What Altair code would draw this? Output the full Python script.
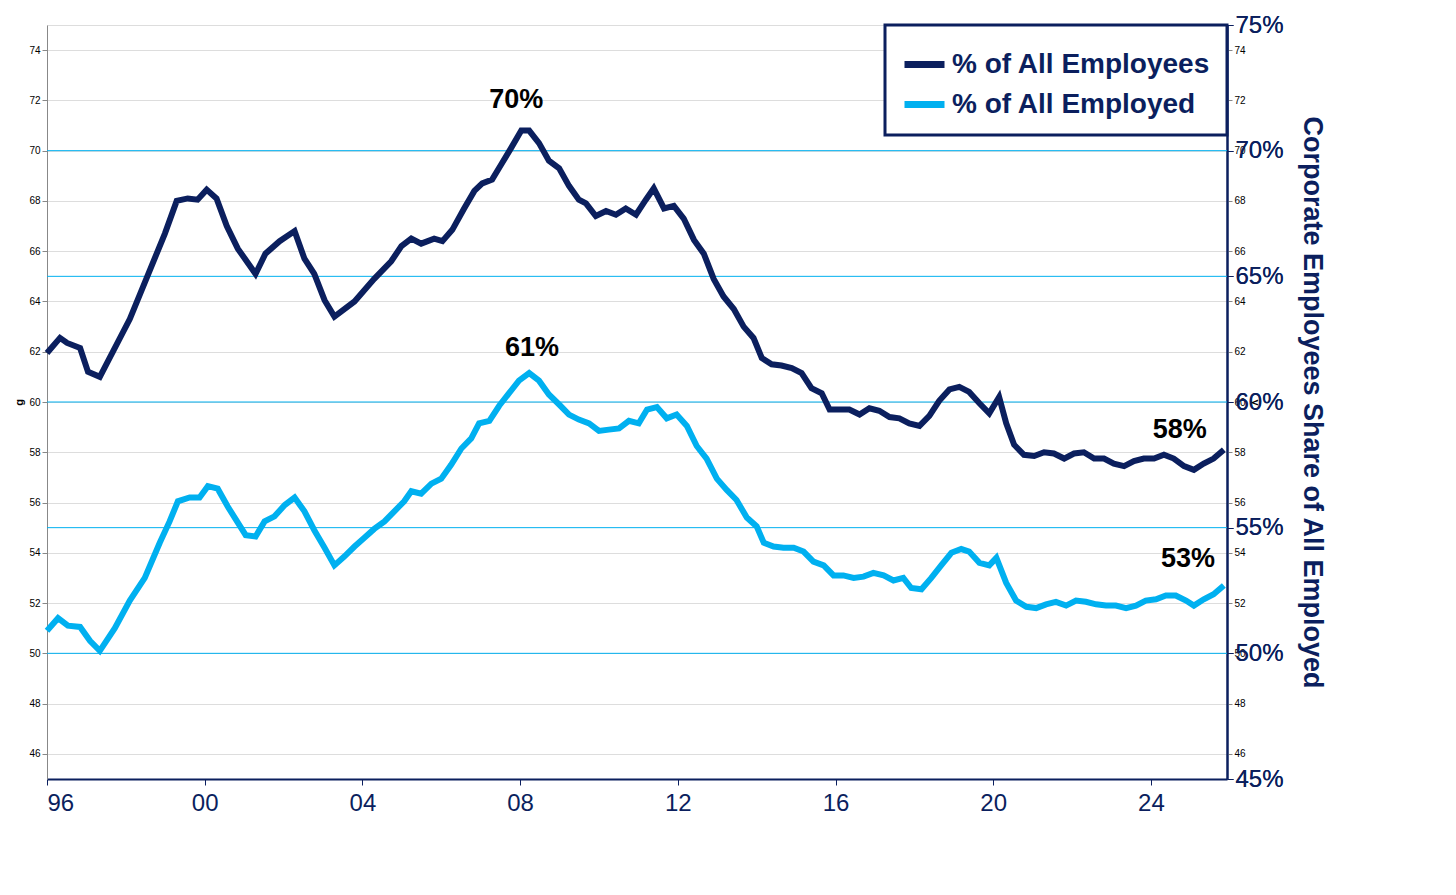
import altair as alt
import pandas as pd

dark_years = [1996.0,1996.33,1996.51,1996.84,1997.04,1997.34,1998.10,1998.99,1999.29,1999.57,1999.82,2000.05,2000.30,2000.56,2000.84,2001.29,2001.54,2001.90,2002.28,2002.53,2002.78,2003.04,2003.29,2003.80,2004.30,2004.73,2004.99,2005.24,2005.49,2005.82,2006.03,2006.28,2006.58,2006.84,2007.04,2007.29,2007.52,2007.77,2008.03,2008.23,2008.48,2008.73,2008.99,2009.24,2009.49,2009.67,2009.92,2010.18,2010.43,2010.68,2010.94,2011.19,2011.39,2011.65,2011.90,2012.15,2012.41,2012.66,2012.91,2013.16,2013.42,2013.67,2013.92,2014.13,2014.38,2014.63,2014.89,2015.14,2015.39,2015.65,2015.85,2016.10,2016.35,2016.61,2016.86,2017.11,2017.37,2017.62,2017.87,2018.13,2018.38,2018.63,2018.89,2019.14,2019.39,2019.65,2019.90,2020.15,2020.33,2020.53,2020.78,2021.04,2021.29,2021.54,2021.80,2022.05,2022.30,2022.56,2022.81,2023.06,2023.32,2023.57,2023.82,2024.08,2024.33,2024.58,2024.84,2025.09,2025.34,2025.59,2025.85]
dark_vals = [61.95,62.55,62.35,62.15,61.2,61.0,63.3,66.7,68.0,68.1,68.05,68.45,68.1,67.0,66.1,65.1,65.9,66.4,66.8,65.7,65.1,64.05,63.4,64.0,64.9,65.6,66.2,66.5,66.3,66.5,66.4,66.85,67.7,68.4,68.7,68.85,69.45,70.1,70.8,70.8,70.3,69.6,69.3,68.6,68.05,67.9,67.4,67.6,67.45,67.7,67.45,68.05,68.5,67.7,67.8,67.3,66.45,65.9,64.9,64.2,63.7,63.0,62.55,61.75,61.5,61.45,61.35,61.15,60.55,60.35,59.7,59.7,59.7,59.5,59.75,59.65,59.4,59.35,59.15,59.05,59.45,60.05,60.5,60.6,60.4,59.95,59.55,60.2,59.15,58.3,57.9,57.85,58.0,57.95,57.75,57.95,58.0,57.75,57.75,57.55,57.45,57.65,57.75,57.75,57.9,57.75,57.45,57.3,57.55,57.75,58.1]

light_years = [1996.0,1996.28,1996.53,1996.84,1997.09,1997.34,1997.72,1998.10,1998.48,1998.86,1999.11,1999.32,1999.62,1999.87,2000.08,2000.33,2000.58,2000.84,2001.04,2001.29,2001.52,2001.77,2002.03,2002.28,2002.53,2002.78,2003.04,2003.29,2003.54,2003.80,2004.05,2004.30,2004.56,2004.81,2005.06,2005.24,2005.49,2005.75,2006.0,2006.25,2006.51,2006.76,2006.96,2007.22,2007.47,2007.72,2007.97,2008.23,2008.48,2008.73,2008.99,2009.24,2009.49,2009.75,2010.0,2010.25,2010.51,2010.76,2011.01,2011.22,2011.47,2011.72,2011.97,2012.23,2012.48,2012.73,2012.99,2013.24,2013.49,2013.75,2014.0,2014.18,2014.43,2014.68,2014.94,2015.19,2015.44,2015.70,2015.95,2016.20,2016.46,2016.71,2016.96,2017.22,2017.47,2017.72,2017.92,2018.18,2018.43,2018.68,2018.94,2019.19,2019.39,2019.65,2019.90,2020.08,2020.33,2020.58,2020.84,2021.09,2021.34,2021.59,2021.85,2022.10,2022.35,2022.61,2022.86,2023.11,2023.37,2023.62,2023.87,2024.13,2024.38,2024.63,2024.89,2025.09,2025.34,2025.59,2025.85]
light_vals = [50.9,51.4,51.1,51.05,50.5,50.1,51.0,52.1,53.0,54.4,55.25,56.05,56.2,56.2,56.65,56.55,55.85,55.2,54.7,54.65,55.25,55.45,55.9,56.2,55.65,54.9,54.2,53.5,53.85,54.25,54.6,54.95,55.25,55.65,56.05,56.45,56.35,56.75,56.95,57.5,58.15,58.55,59.15,59.25,59.85,60.35,60.85,61.15,60.85,60.3,59.9,59.5,59.3,59.15,58.85,58.9,58.95,59.25,59.15,59.7,59.8,59.35,59.5,59.05,58.25,57.75,56.95,56.5,56.1,55.4,55.05,54.4,54.25,54.2,54.2,54.05,53.65,53.5,53.1,53.1,53.0,53.05,53.2,53.1,52.9,53.0,52.6,52.55,53.0,53.5,54.0,54.15,54.05,53.6,53.5,53.8,52.8,52.1,51.85,51.8,51.95,52.05,51.9,52.1,52.05,51.95,51.9,51.9,51.8,51.9,52.1,52.15,52.3,52.3,52.1,51.9,52.15,52.35,52.7]

series_names = ["% of All Employees", "% of All Employed"]
colors = ["#0B1F5E", "#00B0F0"]
ann_text = ["70%", "61%", "58%", "53%"]
ann_x = [2007.9, 2008.3, 2024.73, 2024.94]
ann_y = [72.0, 62.15, 58.9, 53.75]

navy = "#0B1F5E"
df = pd.concat([
    pd.DataFrame({"year": dark_years, "v": dark_vals, "s": series_names[0]}),
    pd.DataFrame({"year": light_years, "v": light_vals, "s": series_names[1]}),
])
ann = pd.DataFrame({"x": ann_x, "y": ann_y, "t": ann_text})

xs = alt.Scale(domain=[1996, 2025.93], nice=False, zero=False)
ys = alt.Scale(domain=[45, 75], nice=False, zero=False)
yticks = [45, 50, 55, 60, 65, 70, 75]

lines = alt.Chart(df).mark_line(strokeWidth=6).encode(
    x=alt.X("year:Q", scale=xs, axis=alt.Axis(
        values=list(range(1996, 2025, 4)), labelExpr="slice('0' + (datum.value % 100), -2)",
        title=None, grid=False, labelFontSize=24, labelColor=navy, domainColor=navy,
        domainWidth=2, tickColor=navy, tickSize=6, labelPadding=6)),
    y=alt.Y("v:Q", scale=ys, axis=alt.Axis(
        values=yticks, labelExpr="datum.value + '%'",
        title="Corporate Employees Share of All Employed", titleFontSize=27,
        titleFontWeight="bold", titleColor=navy, titlePadding=14,
        labelFontSize=24, labelColor=navy, grid=False, domainColor=navy,
        domainWidth=2, tickColor=navy, tickSize=6)),
    color=alt.Color("s:N", scale=alt.Scale(domain=series_names, range=colors),
                    legend=alt.Legend(title=None, orient="top-right", offset=0,
                                      strokeColor=navy, fillColor="white",
                                      padding=16, labelFontSize=28, labelFontWeight="bold",
                                      labelColor=navy, symbolType="stroke",
                                      symbolStrokeWidth=7, symbolSize=1600,
                                      labelLimit=400)),
)

grid = alt.Chart(pd.DataFrame({"g": [50, 55, 60, 65, 70]})).mark_rule(
    color="#00B0F0", strokeWidth=1).encode(y=alt.Y("g:Q", scale=ys))

right = alt.Chart(pd.DataFrame({"g": yticks})).mark_point(opacity=0).encode(
    y=alt.Y("g:Q", scale=ys, axis=alt.Axis(
        orient="right", values=yticks, labelExpr="datum.value + '%'", title=None,
        labelFontSize=24, labelColor=navy, domainColor=navy, domainWidth=2,
        tickColor=navy, tickSize=6)))

text = alt.Chart(ann).mark_text(fontSize=27, fontWeight="bold", color="black").encode(
    x=alt.X("x:Q", scale=xs), y=alt.Y("y:Q", scale=ys), text="t:N")

chart = alt.layer(grid, lines, text, right).resolve_scale(y="independent").properties(
    width=1180, height=754
).configure_view(stroke=navy, strokeWidth=2).configure(font="Liberation Sans").configure_legend(
    strokeWidth=3)

chart.save("out.html", embed_options={"renderer": "svg", "actions": False})
